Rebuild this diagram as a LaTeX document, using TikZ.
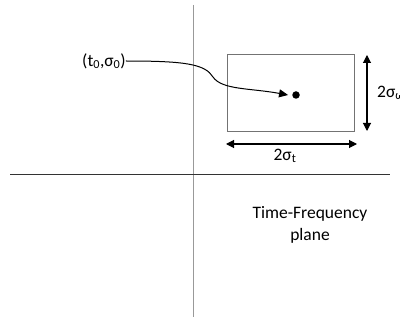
\documentclass[tikz,border=0pt]{standalone}
\usepackage{fontspec}
\setmainfont{Carlito}
\usetikzlibrary{arrows.meta}
\begin{document}
\begin{tikzpicture}[x=1pt,y=-1pt,
  lbl/.style={font=\fontsize{17.5}{22}\selectfont, inner sep=0pt},
  dimarrow/.style={line width=1.1pt, {Triangle[length=8pt,width=8pt]}-{Triangle[length=8pt,width=8pt]}},
  pointer/.style={line width=1pt, -{Triangle[length=9pt,width=8pt]}}]
\useasboundingbox (0,0) rectangle (400,321);
\clip (0,0) rectangle (400,321);
% axes
\coordinate (vtop) at (193,5);
\coordinate (vbot) at (193,317);
\coordinate (hl) at (10,174);
\coordinate (hr) at (390,174);
\draw[line width=1pt, color=gray!80] (vtop) -- (vbot);
\draw[line width=0.9pt, color=black!80] (hl) -- (hr);
% box
\node[draw=black!55, line width=0.9pt, minimum width=127pt, minimum height=77pt, inner sep=0pt] (box) at (291,92.5) {};
% dot
\node[circle, fill=black, minimum size=7.5pt, inner sep=0pt] (dot) at (296,95) {};
% labels
\node[lbl, anchor=west] (pt) at (82,61) {(t\textsubscript{0},σ\textsubscript{0})};
\node[lbl, anchor=west] (sw) at (377,93) {2σ\textsubscript{ω}};
\node[lbl] (st) at (285,156) {2σ\textsubscript{t}};
\node[lbl, align=center] (tf) at (310,225) {Time-Frequency\\plane};
% dimension arrows
\coordinate (va) at (367,55);
\coordinate (vb) at (367,131);
\coordinate (ha) at (226,144);
\coordinate (hb) at (357,144);
\draw[dimarrow] (va) -- (vb);
\draw[dimarrow] (ha) -- (hb);
% pointer curve
\coordinate (mid) at (213,77);
\draw[pointer] (pt.east) .. controls (185,61) and (205,64) .. (mid)
  .. controls (222,90) and (250,88) .. ([xshift=-4pt]dot.west);
\end{tikzpicture}
\end{document}
